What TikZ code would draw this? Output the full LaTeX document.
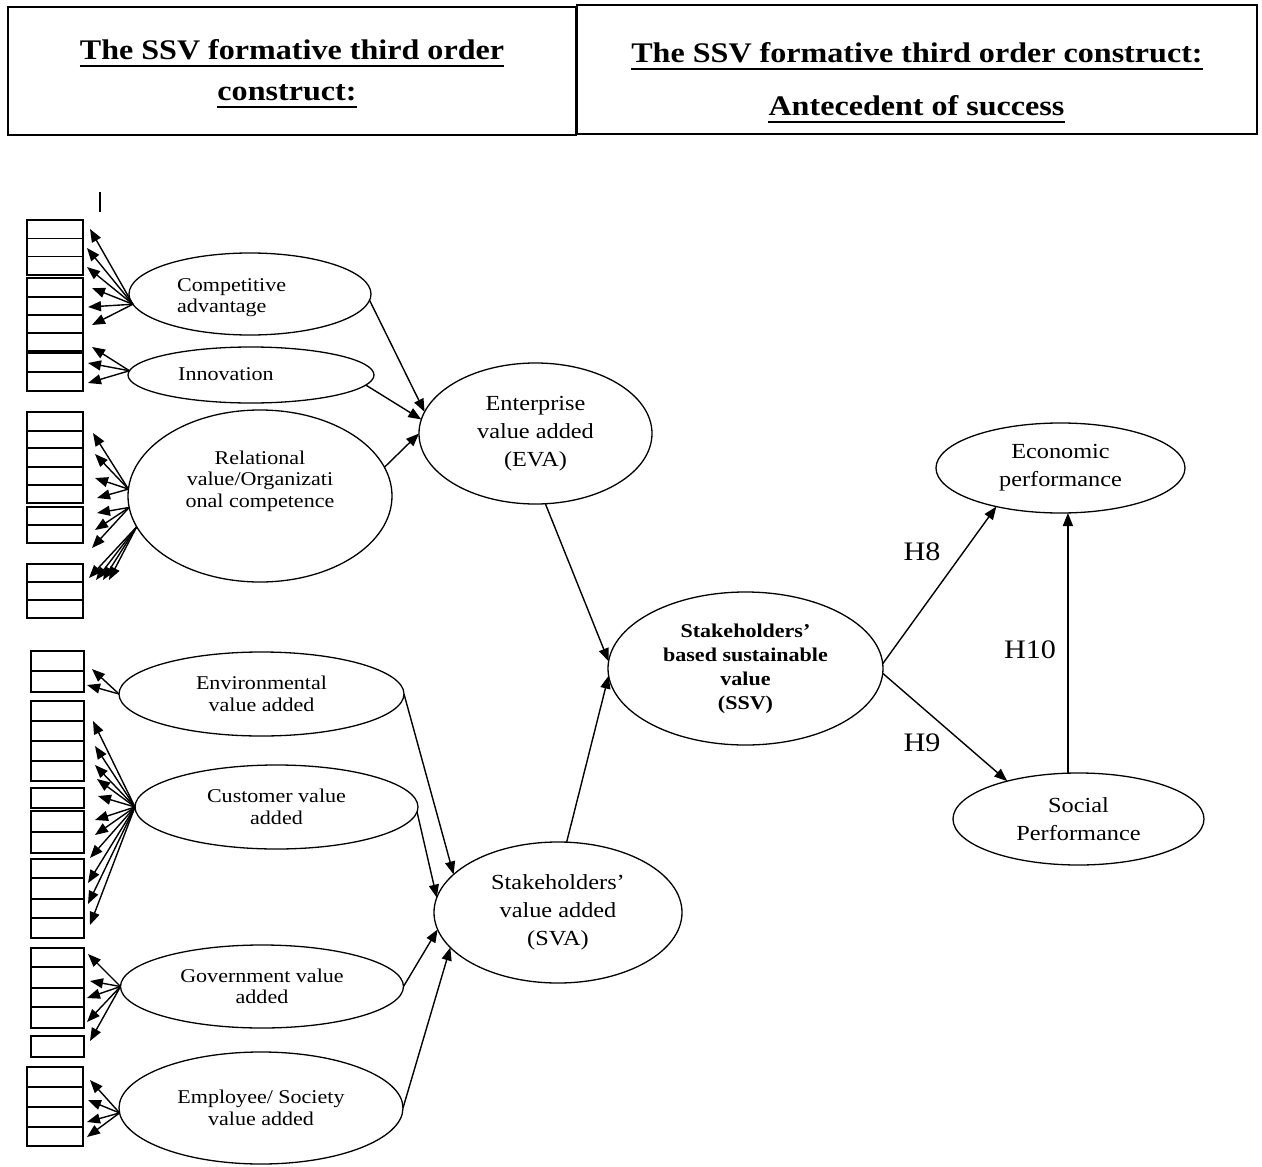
\documentclass[tikz,border=0pt]{standalone}
\usepackage{fontspec}
\setmainfont{Liberation Serif}[FakeStretch=1.13]
\usetikzlibrary{shapes.geometric,arrows.meta}
\begin{document}
\begin{tikzpicture}[x=1pt,y=-1pt,
  ell/.style={draw, ellipse, inner sep=0pt, outer sep=0pt, line width=1.3pt, align=center},
  arr/.style={-{Triangle[length=13pt,width=10pt]}, line width=1.4pt},
  bx/.style={line width=1.4pt},
  lt/.style={font=\fontsize{19.5}{21.5}\selectfont},
  mt/.style={font=\fontsize{21.5}{28}\selectfont},
  st/.style={font=\bfseries\fontsize{19.5}{24}\selectfont},
  ht/.style={font=\bfseries\fontsize{28.4}{30}\selectfont, inner sep=0pt, anchor=base},
  hl/.style={font=\fontsize{26.7}{28}\selectfont, inner sep=0pt},
  hbox/.style={draw, line width=2pt, inner sep=0pt, outer sep=0pt}
]
\useasboundingbox (0,0) rectangle (1262,1167);

% header
\node[hbox, minimum width=568pt, minimum height=128pt] (hbl) at (292,71) {};
\node[hbox, minimum width=680pt, minimum height=129pt] (hbr) at (917,69.5) {};
\node[ht] (h1) at (292,59) {The SSV formative third order};
\node[ht] (h2) at (287,100) {construct:};
\node[ht] (h3) at (917,62) {The SSV formative third order construct:};
\node[ht] (h4) at (916.5,115) {Antecedent of success};
\foreach \h in {h1,h2,h3,h4}
  \draw[line width=2.7pt] ([yshift=-7pt]\h.base west) -- ([yshift=-7pt]\h.base east);

% small tick
\draw[line width=1.2pt] (100,192) -- (100,212);

% indicator boxes (upper)
\foreach \a/\b in {220/238.3,238.3/256.7,256.7/275,
                   278/297,297/315,315/333,333/351,
                   353/372,372/391,
                   412/431,431/448,448/467,467/485,485/503,
                   507/525,525/543,
                   564/582,582/600,600/618}
  \draw[bx] (27,\a) rectangle (83,\b);
% indicator boxes (lower)
\foreach \a/\b in {651/671,671/692,
                   701/721,721/741,741/761,761/781,
                   788/808,
                   811/832,832/853,
                   859/878,878/899,899/918,918/938,
                   948/967,967/988,988/1007,1007/1028,
                   1036/1057}
  \draw[bx] (31,\a) rectangle (84,\b);
\foreach \a/\b in {1067/1087,1087/1107,1107/1127,1127/1146}
  \draw[bx] (27,\a) rectangle (83,\b);

% first-order constructs
\node[ell, minimum width=242pt, minimum height=82pt] (ca) at (250,294) {};
\node[lt, align=left, anchor=west, inner sep=0pt] (cat) at (177,297.5) {Competitive\\advantage};
\node[ell, minimum width=246pt, minimum height=56pt] (inn) at (251,375) {};
\node[lt, anchor=west, inner sep=0pt] (innt) at (178,374) {Innovation};
\node[ell, minimum width=264pt, minimum height=172pt] (rv) at (260,496) {};
\node[lt, align=center, inner sep=0pt] (rvt) at (260,481) {Relational\\value/Organizati\\onal competence};
\node[ell, lt, minimum width=285pt, minimum height=84pt] (env) at (261.5,694) {Environmental\\value added};
\node[ell, lt, minimum width=283pt, minimum height=84pt] (cu) at (276.5,807) {Customer value\\added};
\node[ell, lt, minimum width=283pt, minimum height=83pt] (gv) at (262,986.5) {Government value\\added};
\node[ell, lt, minimum width=284pt, minimum height=112pt] (em) at (261,1108) {Employee/ Society\\value added};

% second-order
\node[ell, mt, minimum width=233pt, minimum height=141pt] (eva) at (535.5,433.5) {Enterprise\\value added\\(EVA)};
\node[ell, mt, minimum width=248pt, minimum height=141pt] (sva) at (558,912.5) {Stakeholders’\\value added\\(SVA)};
\node[ell, st, minimum width=275pt, minimum height=153pt] (ssv) at (745.5,668.5) {Stakeholders’\\based sustainable\\value\\(SSV)};
\node[ell, mt, minimum width=249pt, minimum height=90pt] (eco) at (1060.5,468) {Economic\\performance};
\node[ell, mt, minimum width=251pt, minimum height=92pt] (soc) at (1078.5,819) {Social\\Performance};

% indicator arrow tips
\foreach \n/\x/\y in {1/90/229,2/87/248,3/87/267,4/92/288,5/88/307,6/92/325}
  \coordinate (ca\n) at (\x,\y);
\foreach \n/\x/\y in {1/92/347,2/88/363,3/88/383}
  \coordinate (inn\n) at (\x,\y);
\foreach \n/\x/\y in {1/93/433,2/95/454,3/95/478,4/97/498,5/97/513,6/95/530,7/92/548,8/89/578,9/96/580,10/103/580,11/109/580}
  \coordinate (rv\n) at (\x,\y);
\foreach \n/\x/\y in {1/92/669,2/87/685}
  \coordinate (env\n) at (\x,\y);
\foreach \n/\x/\y in {1/93/721,2/95/746,3/95/765,4/97/779,5/98/796,6/95/820,7/95/835,8/90/858,9/88/883,10/88/904,11/90/925}
  \coordinate (cu\n) at (\x,\y);
\foreach \n/\x/\y in {1/88/954,2/90/981,3/87/998,4/87/1022,5/90/1041}
  \coordinate (gv\n) at (\x,\y);
\foreach \n/\x/\y in {1/90/1080,2/88/1100,3/87/1122,4/87/1137}
  \coordinate (em\n) at (\x,\y);

\foreach \n in {1,...,6} \draw[arr] (ca.185) -- (ca\n);
\foreach \n in {1,2,3} \draw[arr] (inn.178) -- (inn\n);
\foreach \n in {1,...,4} \draw[arr] (rv.177) -- (rv\n);
\foreach \n in {5,6,7} \draw[arr] (rv.185) -- (rv\n);
\foreach \n in {8,...,11} \draw[arr] (rv.194) -- (rv\n);
\foreach \n in {1,2} \draw[arr] (env.180) -- (env\n);
\foreach \n in {1,...,11} \draw[arr] (cu.180) -- (cu\n);
\foreach \n in {1,...,5} \draw[arr] (gv.180) -- (gv\n);
\foreach \n in {1,...,4} \draw[arr] (em.182) -- (em\n);

% structural paths
\draw[arr] (ca.357) -- (eva.169.5);
\draw[arr] (inn.355) -- (eva.173.5);
\draw[arr] (rv.13) -- (eva.180);
\draw[arr] (env.0) -- (sva.160.5);
\draw[arr] (cu.358) -- (sva.173.5);
\draw[arr] (gv.0) -- (sva.188);
\draw[arr] (em.0) -- (sva.198);
\draw[arr] (eva.278) -- (ssv.177);
\draw[arr] (sva.83) -- (ssv.183);
\draw[arr] (ssv.2) -- (eco.211);
\draw[arr] (ssv.358) -- (soc.152);
\draw[arr] (soc.103.5) -- (soc.103.5 |- eco.south);

% hypothesis labels
\node[hl] (h8) at (922,552) {H8};
\node[hl] (h9) at (922,743) {H9};
\node[hl] (h10) at (1030,650) {H10};
\end{tikzpicture}
\end{document}
